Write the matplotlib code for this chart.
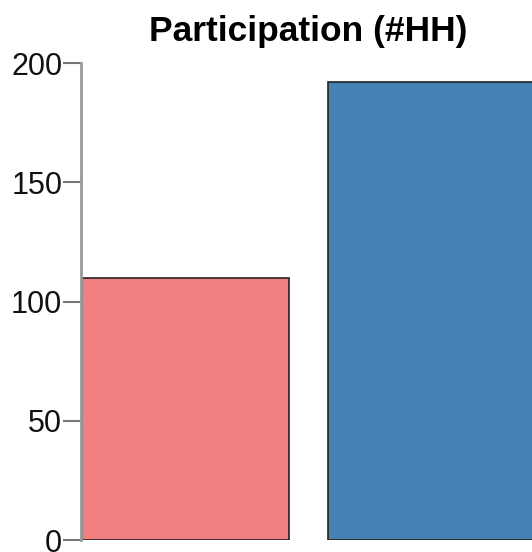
import matplotlib.pyplot as plt

plt.rcParams['font.family'] = ['Liberation Sans', 'DejaVu Sans']

# Participation counts per group
groups = ['Group A', 'Group B']
households = [110, 192]
bar_colors = ['#F08080', '#4682B4']
y_ticks = [0, 50, 100, 150, 200]

fig = plt.figure(figsize=(5.32, 5.52), dpi=100)
# the plot area runs slightly past the right edge of the canvas
ax = fig.add_axes([81 / 532, 12 / 552, 455 / 532, 477 / 552])

width = 0.838
positions = range(len(groups))
ax.bar(positions, households, width=width, color=bar_colors,
       edgecolor='#222222', linewidth=1.2)

ax.set_xlim(-width / 2 - 0.005, len(groups) - 1 + width / 2 + 0.005)
ax.set_ylim(0, 200)
ax.set_yticks(y_ticks)
ax.set_yticklabels([str(t) for t in y_ticks])
ax.tick_params(axis='y', length=13, width=1.5, color='#777777',
               labelsize=22, pad=0.5, labelcolor='#111111')
ax.set_xticks([])

for side in ['top', 'right', 'bottom']:
    ax.spines[side].set_visible(False)
ax.spines['left'].set_color('#999999')
ax.spines['left'].set_linewidth(2)

fig.text(308 / 532, 1 - 41 / 552, 'Participation (#HH)', ha='center',
         va='baseline', fontsize=25.5, fontweight='bold')

fig.savefig('out.png', dpi=100)
